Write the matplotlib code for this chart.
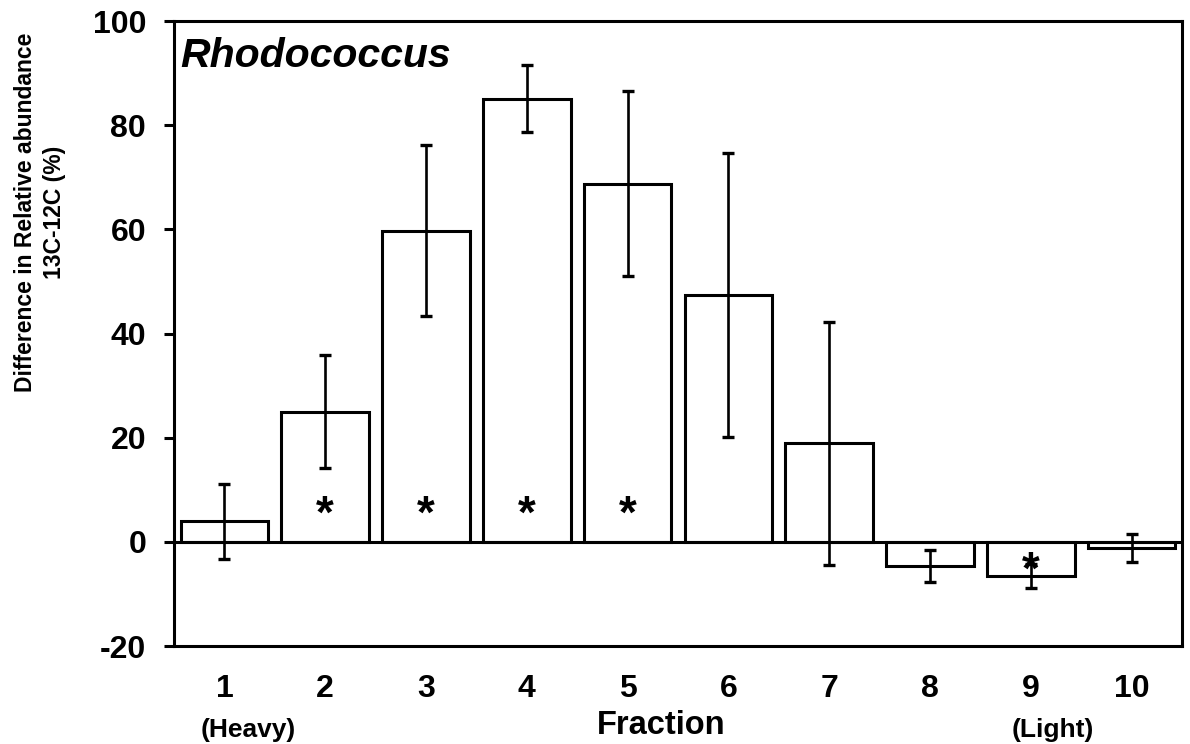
import matplotlib
matplotlib.use("Agg")
import matplotlib.pyplot as plt

# Fractions along the density gradient
fractions = [1, 2, 3, 4, 5, 6, 7, 8, 9, 10]
tick_labels = ["1", "2", "3", "4", "5", "6", "7", "8", "9", "10"]
# Difference in relative abundance, 13C minus 12C (%)
diff_values = [4.0, 25.0, 59.7, 85.1, 68.8, 47.4, 18.9, -4.7, -6.5, -1.2]
diff_errors = [7.2, 10.9, 16.4, 6.5, 17.7, 27.3, 23.4, 3.1, 2.3, 2.7]
# Significant fractions and the height of their asterisk
sig_fractions = [2, 3, 4, 5, 9]
sig_heights = [5.0, 5.0, 5.0, 5.0, -5.8]

plt.rcParams["axes.unicode_minus"] = False

W, H = 1190, 744
fig = plt.figure(figsize=(W / 100, H / 100), dpi=100)
ax = fig.add_axes([174 / W, 1 - 646 / H, (1182 - 174) / W, (646 - 21) / H])

bold = ["Liberation Sans", "DejaVu Sans"]

lw = 2.2
ax.bar(fractions, diff_values, width=0.87, color="white", edgecolor="black",
       linewidth=lw, zorder=2)
ax.errorbar(fractions, diff_values, yerr=diff_errors, fmt="none", ecolor="black",
            elinewidth=1.9, capsize=4.5, capthick=2.4, zorder=3)
ax.axhline(0, color="black", linewidth=lw, zorder=4)

for xf, yh in zip(sig_fractions, sig_heights):
    ax.text(xf, yh, "*", ha="center", va="center", fontsize=33,
            fontweight="bold", family=bold, zorder=5)

ax.set_xlim(0.5, 10.5)
ax.set_ylim(-20, 100)
ax.set_yticks([-20, 0, 20, 40, 60, 80, 100])
ax.set_xticks(fractions)
ax.set_xticklabels(tick_labels)
for sp in ax.spines.values():
    sp.set_linewidth(lw)
ax.tick_params(axis="y", direction="out", length=7, width=lw, pad=13)
ax.tick_params(axis="x", length=0, pad=20)
for lab in ax.get_xticklabels() + ax.get_yticklabels():
    lab.set_family(bold)
    lab.set_fontweight("bold")
    lab.set_fontsize(23)

ax.text(0.006, 0.975, "Rhodococcus", transform=ax.transAxes, ha="left", va="top",
        fontsize=29.5, fontweight="bold", fontstyle="italic", family=bold)

fig.text(661 / W, 1 - 725 / H, "Fraction", ha="center", va="center",
         fontsize=23.5, fontweight="bold", family=bold)
fig.text(248 / W, 1 - 730 / H, "(Heavy)", ha="center", va="center",
         fontsize=19, fontweight="bold", family=bold)
fig.text(1053 / W, 1 - 730 / H, "(Light)", ha="center", va="center",
         fontsize=19, fontweight="bold", family=bold)
fig.text(40 / W, 1 - 212 / H, "Difference in Relative abundance\n13C-12C (%)",
         ha="center", va="center", rotation=90, fontsize=16.5, fontweight="bold",
         family=bold, linespacing=1.3, multialignment="center")

fig.savefig("out.png", dpi=100)
